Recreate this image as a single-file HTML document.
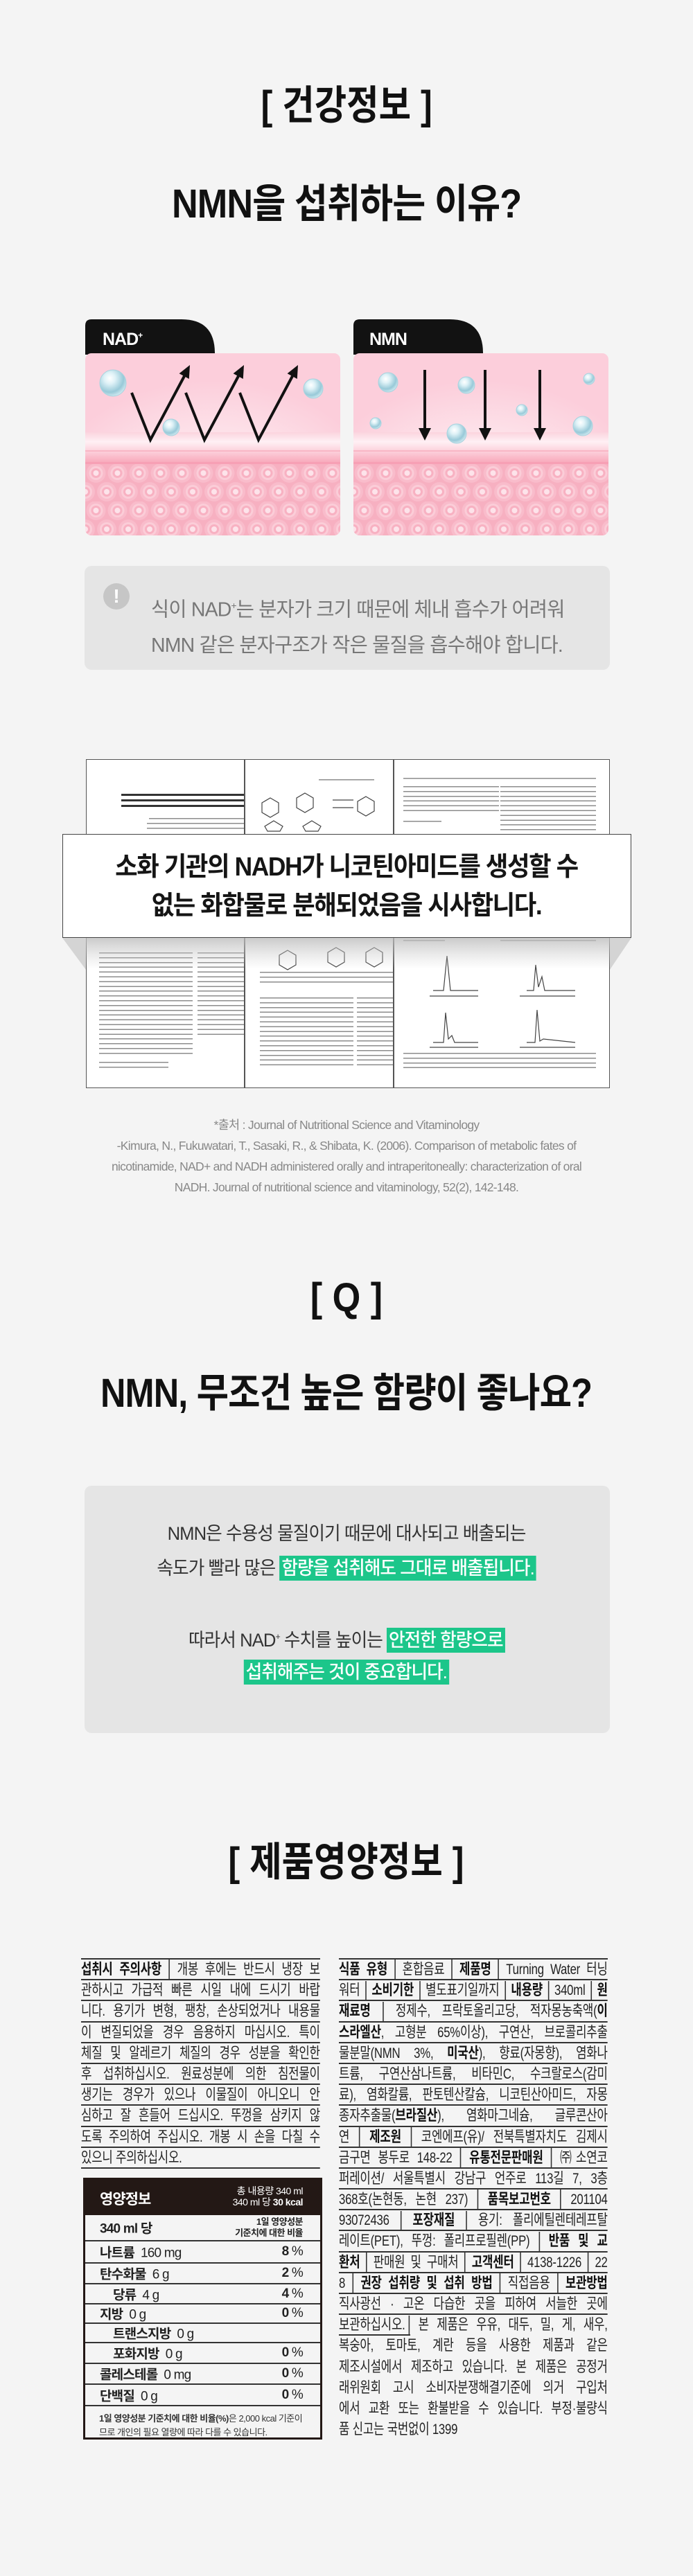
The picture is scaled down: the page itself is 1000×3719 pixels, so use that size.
<!DOCTYPE html>
<html><head><meta charset="utf-8">
<style>
*{margin:0;padding:0;box-sizing:border-box}
body{width:1000px;height:3719px;background:#f4f4f4;position:relative;overflow:hidden;font-family:"Liberation Sans","Noto Sans CJK KR",sans-serif;color:#111}
.t{position:absolute;left:0;width:1000px;text-align:center;white-space:nowrap;line-height:1}
.sx{display:inline-block}
.h{font-weight:700;font-size:58px}
.box{position:absolute;background:#e5e5e5;border-radius:10px}
.tx{position:absolute;background:repeating-linear-gradient(to bottom,#8c8c8c 0 1.5px,transparent 1.5px 6.9px)}
.tb{position:absolute;background:repeating-linear-gradient(to bottom,#333 0 3px,transparent 3px 8px)}
.col{position:absolute;border-top:2px solid #333}
.l{height:30.2px;border-bottom:2px solid #333;font-size:21.5px;line-height:28px;text-align:justify;text-align-last:justify;transform-origin:left top;overflow:hidden;color:#222;letter-spacing:-0.3px}
.l.n{border-bottom:none}
.l b{font-weight:700;color:#111}
.s{display:inline-block;width:0;height:30px;border-left:2px solid #333;vertical-align:middle;margin:0 1px}
.hl{display:inline-block;background:#1cc68a;color:#fff;height:36px;line-height:36px;padding:0 3px;font-weight:500}
.nt{position:absolute;left:120px;top:3144px;width:345px;height:378px;border:3px solid #231815}
.r{position:absolute;left:0;width:339px;border-top:2px solid #333;font-size:19px;letter-spacing:-0.8px;color:#222}
.r .a{position:absolute;top:50%;transform:translateY(-50%);white-space:nowrap}
.r .p{position:absolute;right:25px;top:50%;transform:translateY(-50%);white-space:nowrap}
</style></head><body>

<div class="t h" style="top:124px"><span class="sx" style="transform:scaleX(.87)">[ 건강정보 ]</span></div>
<div class="t h" style="top:266px"><span class="sx" style="transform:scaleX(.9);letter-spacing:-1px">NMN을 섭취하는 이유?</span></div>

<svg style="position:absolute;left:0;top:0" width="1000" height="800">
<defs>
<radialGradient id="up" cx="50%" cy="80%" r="65%"><stop offset="0" stop-color="#fff6f9"/><stop offset=".6" stop-color="#fde0e8"/><stop offset="1" stop-color="#fccedb"/></radialGradient>
<linearGradient id="band" x1="0" y1="0" x2="0" y2="1"><stop offset="0" stop-color="#fbd4de"/><stop offset=".3" stop-color="#fff0f4"/><stop offset=".6" stop-color="#fcd0db"/><stop offset=".8" stop-color="#fab9c8"/><stop offset="1" stop-color="#f7a5b8"/></linearGradient>
<pattern id="hex" width="31" height="54" patternUnits="userSpaceOnUse" x="123" y="670">
<rect width="31" height="54" fill="#f7b0c1"/>
<g id="hc"><circle cx="15.5" cy="13" r="14" fill="#f9bccb"/><circle cx="15.5" cy="13" r="10" fill="#fbcdd8"/><circle cx="15.5" cy="13" r="7" fill="#f8b1c2"/><circle cx="15.5" cy="13" r="4" fill="#fde3ea"/></g>
<use href="#hc" x="-15.5" y="27"/><use href="#hc" x="15.5" y="27"/>
</pattern>
<radialGradient id="bub" cx=".38" cy=".32" r=".7"><stop offset="0" stop-color="#ffffff"/><stop offset=".3" stop-color="#dff2f7"/><stop offset=".75" stop-color="#98c9d8"/><stop offset="1" stop-color="#cfe9f0"/></radialGradient>
<clipPath id="cb"><rect x="123" y="510" width="368" height="263" rx="9"/></clipPath>
<g id="card">
<path d="M123,512 V470 Q123,461 132,461 H262 Q310,461 310,510 Z" fill="#121212"/>
<g clip-path="url(#cb)">
<rect x="123" y="510" width="368" height="263" fill="url(#up)"/>
<rect x="123" y="624" width="368" height="46" fill="url(#band)"/>
<rect x="123" y="670" width="368" height="103" fill="url(#hex)"/>
<rect x="123" y="650" width="368" height="2" fill="#f9b6c5"/>
<rect x="123" y="667" width="368" height="3" fill="#f7a0b5"/>
</g>
</g>
</defs>
<use href="#card"/>
<use href="#card" x="387"/>
<text x="148" y="498" fill="#fff" font-size="25" font-weight="700" font-family="Liberation Sans,sans-serif" letter-spacing="-1">NAD<tspan font-size="12" dy="-10">+</tspan></text>
<text x="533" y="498" fill="#fff" font-size="25" font-weight="700" font-family="Liberation Sans,sans-serif" letter-spacing="-1">NMN</text>
<g id="zz">
<polyline points="190,567 217,635 266,543" fill="none" stroke="#111" stroke-width="4"/>
<polygon points="274,527 272.8,547 258.6,539.2" fill="#111"/>
</g>
<use href="#zz" x="78"/><use href="#zz" x="156"/>
<g fill="url(#bub)" stroke="#a8d3df" stroke-width="1">
<circle cx="163" cy="553" r="19"/><circle cx="247" cy="617" r="12"/><circle cx="452" cy="561" r="14"/>
<circle cx="560" cy="552" r="14"/><circle cx="673" cy="556" r="12"/><circle cx="850" cy="547" r="8"/><circle cx="542" cy="611" r="8"/><circle cx="753" cy="592" r="8"/><circle cx="659" cy="626" r="14"/><circle cx="841" cy="615" r="14"/>
</g>
<g stroke="#111" stroke-width="4"><line x1="613" y1="534" x2="613" y2="622"/><line x1="700" y1="534" x2="700" y2="622"/><line x1="779" y1="534" x2="779" y2="622"/></g>
<g fill="#111"><polygon points="604,618 622,618 613,636"/><polygon points="691,618 709,618 700,636"/><polygon points="770,618 788,618 779,636"/></g>
</svg>

<div class="box" style="left:122px;top:817px;width:758px;height:150px"></div>
<div style="position:absolute;left:149px;top:842px;width:38px;height:38px;border-radius:50%;background:#c6c6c6;color:#fff;font-weight:700;font-size:28px;line-height:38px;text-align:center">!</div>
<div style="position:absolute;left:218px;top:849px;font-size:29px;line-height:51px;color:#777;white-space:nowrap;transform:scaleX(.98);transform-origin:left top;letter-spacing:-0.8px">식이 NAD<sup style="font-size:14px">+</sup>는 분자가 크기 때문에 체내 흡수가 어려워<br>NMN 같은 분자구조가 작은 물질을 흡수해야 합니다.</div>

<!-- papers -->
<div style="position:absolute;left:124px;top:1096px;width:756px;height:475px;background:#fff;border:1.5px solid #555"></div>
<div style="position:absolute;left:352px;top:1096px;width:1.5px;height:475px;background:#555"></div>
<div style="position:absolute;left:567px;top:1096px;width:1.5px;height:475px;background:#555"></div>
<div class="tb" style="left:175px;top:1146px;width:177px;height:22px"></div>
<div class="tx" style="left:215px;top:1181px;width:137px;height:4px"></div>
<div class="tx" style="left:212px;top:1188px;width:140px;height:10px"></div>
<div class="tx" style="left:460px;top:1125px;width:80px;height:3px"></div>
<div class="tx" style="left:582px;top:1123px;width:278px;height:3px"></div>
<div class="tx" style="left:582px;top:1135px;width:138px;height:40px"></div>
<div class="tx" style="left:582px;top:1185px;width:55px;height:3px"></div>
<div class="tx" style="left:722px;top:1135px;width:138px;height:70px"></div>
<div class="tx" style="left:143px;top:1375px;width:135px;height:150px"></div>
<div class="tx" style="left:285px;top:1375px;width:67px;height:122px"></div>
<div class="tx" style="left:143px;top:1533px;width:100px;height:10px"></div>
<div class="tx" style="left:375px;top:1403px;width:192px;height:18px"></div>
<div class="tx" style="left:375px;top:1440px;width:135px;height:100px"></div>
<div class="tx" style="left:515px;top:1440px;width:52px;height:100px"></div>
<div class="tx" style="left:582px;top:1357px;width:60px;height:3px"></div>
<div class="tx" style="left:722px;top:1357px;width:138px;height:3px"></div>
<div class="tx" style="left:582px;top:1520px;width:278px;height:24px"></div>
<svg style="position:absolute;left:0;top:0" width="1000" height="1600">
<g fill="none" stroke="#444" stroke-width="1.2">
<polygon points="390,1152 402,1159 402,1173 390,1180 378,1173 378,1159"/>
<polygon points="440,1145 452,1152 452,1166 440,1173 428,1166 428,1152"/>
<polygon points="528,1150 540,1157 540,1171 528,1178 516,1171 516,1157"/>
<polygon points="395,1185 408,1193 404,1200 386,1200 382,1193"/>
<polygon points="450,1185 463,1193 459,1200 441,1200 437,1193"/>
<line x1="480" y1="1155" x2="510" y2="1155"/><line x1="480" y1="1166" x2="510" y2="1166"/>
<polygon points="415,1372 427,1379 427,1393 415,1400 403,1393 403,1379"/>
<polygon points="485,1368 497,1375 497,1389 485,1396 473,1389 473,1375"/>
<polygon points="540,1368 552,1375 552,1389 540,1396 528,1389 528,1375"/>
<polyline points="625,1430 640,1430 645,1380 650,1430 690,1430"/>
<polyline points="760,1430 770,1430 773,1393 777,1425 782,1410 786,1430 830,1430"/>
<polyline points="625,1505 640,1505 643,1462 647,1500 652,1495 656,1505 690,1505"/>
<polyline points="760,1505 772,1505 775,1458 779,1503 784,1500 830,1505"/>
<line x1="620" y1="1438" x2="690" y2="1438"/><line x1="750" y1="1438" x2="830" y2="1438"/>
<line x1="620" y1="1512" x2="690" y2="1512"/><line x1="750" y1="1512" x2="830" y2="1512"/>
</g>
<defs><linearGradient id="sh" x1="0" y1="0" x2="0" y2="1"><stop offset="0" stop-color="#bdbdbd" stop-opacity=".8"/><stop offset="1" stop-color="#d0d0d0" stop-opacity="0"/></linearGradient></defs>
<rect x="124" y="1354" width="756" height="45" fill="url(#sh)"/>
<polygon points="90,1354 124,1354 124,1400" fill="#d4d4d4"/>
<polygon points="911,1354 880,1354 880,1400" fill="#d4d4d4"/>
</svg>
<div style="position:absolute;left:90px;top:1204px;width:821px;height:150px;background:#fff;border:1.5px solid #444"></div>
<div class="t" style="font-size:38px;font-weight:700;line-height:56px;top:1224px;color:#151515"><span class="sx" style="transform:scaleX(.93);letter-spacing:-1.5px">소화 기관의 NADH가 니코틴아미드를 생성할 수<br>없는 화합물로 분해되었음을 시사합니다.</span></div>

<div class="t" style="top:1609px;font-size:17.5px;line-height:30px;color:#888;letter-spacing:-0.7px">*출처 : Journal of Nutritional Science and Vitaminology<br>-Kimura, N., Fukuwatari, T., Sasaki, R., &amp; Shibata, K. (2006). Comparison of metabolic fates of<br>nicotinamide, NAD+ and NADH administered orally and intraperitoneally: characterization of oral<br>NADH. Journal of nutritional science and vitaminology, 52(2), 142-148.</div>

<div class="t h" style="top:1845px"><span class="sx" style="transform:scaleX(.9)">[ Q ]</span></div>
<div class="t h" style="top:1983px"><span class="sx" style="transform:scaleX(.87);letter-spacing:-1px">NMN, 무조건 높은 함량이 좋나요?</span></div>

<div class="box" style="left:122px;top:2145px;width:758px;height:357px"></div>
<div class="t" style="top:2196px;font-size:27px;line-height:36px;color:#333"><span class="sx" style="transform:scaleX(.95);letter-spacing:-1px">NMN은 수용성 물질이기 때문에 대사되고 배출되는</span></div>
<div class="t" style="top:2246px;font-size:27px;line-height:36px;color:#333"><span class="sx" style="transform:scaleX(.95);letter-spacing:-1px">속도가 빨라 많은 <span class="hl">함량을 섭취해도 그대로 배출됩니다.</span></span></div>
<div class="t" style="top:2345px;font-size:27px;line-height:36px;color:#333"><span class="sx" style="transform:scaleX(.95);letter-spacing:-1px">따라서 NAD<sup style="font-size:13px">+</sup> 수치를 높이는 <span class="hl">안전한 함량으로</span></span></div>
<div class="t" style="top:2396px;font-size:27px;line-height:36px;color:#333"><span class="sx" style="transform:scaleX(.95);letter-spacing:-1px"><span class="hl">섭취해주는 것이 중요합니다.</span></span></div>

<div class="t h" style="top:2660px"><span class="sx" style="transform:scaleX(.87)">[ 제품영양정보 ]</span></div>

<!-- left column -->
<div class="col" style="left:117px;top:2827px;width:345px">
<div style="width:442px;transform:scaleX(.78);transform-origin:left top">
<div class="l"><b>섭취시 주의사항</b> <i class="s"></i> 개봉 후에는 반드시 냉장 보</div>
<div class="l">관하시고 가급적 빠른 시일 내에 드시기 바랍</div>
<div class="l">니다. 용기가 변형, 팽창, 손상되었거나 내용물</div>
<div class="l">이 변질되었을 경우 음용하지 마십시오. 특이</div>
<div class="l">체질 및 알레르기 체질의 경우 성분을 확인한</div>
<div class="l">후 섭취하십시오. 원료성분에 의한 침전물이</div>
<div class="l">생기는 경우가 있으나 이물질이 아니오니 안</div>
<div class="l">심하고 잘 흔들어 드십시오. 뚜껑을 삼키지 않</div>
<div class="l">도록 주의하여 주십시오. 개봉 시 손을 다칠 수</div>
<div class="l" style="text-align-last:left">있으니 주의하십시오.</div>
</div></div>

<!-- right column -->
<div class="col" style="left:489px;top:2827px;width:388px">
<div style="width:497px;transform:scaleX(.78);transform-origin:left top">
<div class="l"><b>식품 유형</b> <i class="s"></i> 혼합음료 <i class="s"></i> <b>제품명</b> <i class="s"></i> Turning Water 터닝</div>
<div class="l">워터 <i class="s"></i> <b>소비기한</b> <i class="s"></i> 별도표기일까지 <i class="s"></i> <b>내용량</b> <i class="s"></i> 340ml <i class="s"></i> <b>원</b></div>
<div class="l"><b>재료명</b> <i class="s"></i> 정제수, 프락토올리고당, 적자몽농축액(<b>이</b></div>
<div class="l"><b>스라엘산</b>, 고형분 65%이상), 구연산, 브로콜리추출</div>
<div class="l">물분말(NMN 3%, <b>미국산</b>), 향료(자몽향), 염화나</div>
<div class="l">트륨, 구연산삼나트륨, 비타민C, 수크랄로스(감미</div>
<div class="l">료), 염화칼륨, 판토텐산칼슘, 니코틴산아미드, 자몽</div>
<div class="l">종자추출물(<b>브라질산</b>), 염화마그네슘, 글루콘산아</div>
<div class="l">연 <i class="s"></i> <b>제조원</b> <i class="s"></i> 코엔에프(유)/ 전북특별자치도 김제시</div>
<div class="l">금구면 봉두로 148-22 <i class="s"></i> <b>유통전문판매원</b> <i class="s"></i> ㈜소연코</div>
<div class="l">퍼레이션/ 서울특별시 강남구 언주로 113길 7, 3층</div>
<div class="l">368호(논현동, 논현 237) <i class="s"></i> <b>품목보고번호</b> <i class="s"></i> 201104</div>
<div class="l">93072436 <i class="s"></i> <b>포장재질</b> <i class="s"></i> 용기: 폴리에틸렌테레프탈</div>
<div class="l">레이트(PET), 뚜껑: 폴리프로필렌(PP) <i class="s"></i> <b>반품 및 교</b></div>
<div class="l"><b>환처</b> <i class="s"></i> 판매원 및 구매처 <i class="s"></i> <b>고객센터</b> <i class="s"></i> 4138-1226 <i class="s"></i> 22</div>
<div class="l">8 <i class="s"></i> <b>권장 섭취량 및 섭취 방법</b> <i class="s"></i> 직접음용 <i class="s"></i> <b>보관방법</b></div>
<div class="l">직사광선 · 고온 다습한 곳을 피하여 서늘한 곳에</div>
<div class="l n"><span style="display:inline-block;border-bottom:2px solid #333;height:30px">보관하십시오. <i class="s"></i></span> 본 제품은 우유, 대두, 밀, 게, 새우,</div>
<div class="l n">복숭아, 토마토, 계란 등을 사용한 제품과 같은</div>
<div class="l n">제조시설에서 제조하고 있습니다. 본 제품은 공정거</div>
<div class="l n">래위원회 고시 소비자분쟁해결기준에 의거 구입처</div>
<div class="l n">에서 교환 또는 환불받을 수 있습니다. 부정·불량식</div>
<div class="l n" style="text-align-last:left">품 신고는 국번없이 1399</div>
</div></div>

<!-- nutrition table -->
<div class="nt">
<div style="position:absolute;left:0;top:0;width:339px;height:51px;background:#231815"></div>
<div style="position:absolute;left:21px;top:12px;color:#fff;font-weight:700;font-size:21px;letter-spacing:-1px">영양정보</div>
<div style="position:absolute;right:25px;top:8px;color:#fff;font-size:14px;line-height:16px;text-align:right;letter-spacing:-0.5px;white-space:nowrap">총 내용량 340 ml<br>340 ml 당 <b>30 kcal</b></div>
<div class="r" style="top:51px;height:36px;border-top:none"><span class="a" style="left:21px;font-weight:700">340 ml 당</span><span class="p" style="font-size:13px;font-weight:700;line-height:16px;text-align:right;letter-spacing:-0.5px">1일 영양성분<br>기준치에 대한 비율</span></div>
<div class="r" style="top:87px;height:32px"><span class="a" style="left:21px"><b>나트륨</b>&nbsp; 160 mg</span><span class="p"><b>8</b> %</span></div>
<div class="r" style="top:119px;height:30px"><span class="a" style="left:21px"><b>탄수화물</b>&nbsp; 6 g</span><span class="p"><b>2</b> %</span></div>
<div class="r" style="top:149px;height:29px"><span class="a" style="left:40px"><b>당류</b>&nbsp; 4 g</span><span class="p"><b>4</b> %</span></div>
<div class="r" style="top:178px;height:28px"><span class="a" style="left:21px"><b>지방</b>&nbsp; 0 g</span><span class="p"><b>0</b> %</span></div>
<div class="r" style="top:206px;height:28px"><span class="a" style="left:40px"><b>트랜스지방</b>&nbsp; 0 g</span></div>
<div class="r" style="top:234px;height:30px"><span class="a" style="left:40px"><b>포화지방</b>&nbsp; 0 g</span><span class="p"><b>0</b> %</span></div>
<div class="r" style="top:264px;height:30px"><span class="a" style="left:21px"><b>콜레스테롤</b>&nbsp; 0 mg</span><span class="p"><b>0</b> %</span></div>
<div class="r" style="top:294px;height:31px"><span class="a" style="left:21px"><b>단백질</b>&nbsp; 0 g</span><span class="p"><b>0</b> %</span></div>
<div class="r" style="top:325px;height:47px;font-size:13px;letter-spacing:-0.5px"><div style="position:absolute;left:20px;top:8px;line-height:20px;white-space:nowrap;color:#333"><b>1일 영양성분 기준치에 대한 비율(%)</b>은 2,000 kcal 기준이<br>므로 개인의 필요 열량에 따라 다를 수 있습니다.</div></div>
</div>

</body></html>
